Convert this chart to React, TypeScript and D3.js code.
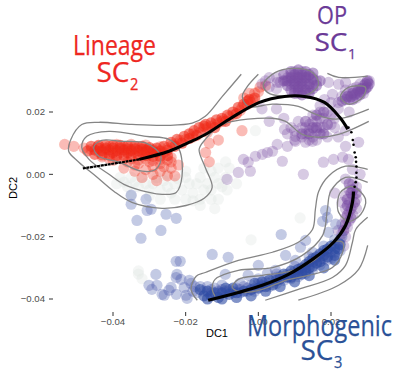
import React from "react";
import * as d3 from "d3";

type P = [number, number];
// all DC values below are in units of 1e-3
const xTicks = [-40, -20, 0, 20];
const yTicks = [20, 0, -20, -40];

const grayCells: P[] = [[-38,-1],[-35,-1],[-32,-1],[-29,-3],[-26,-2],[-23,-3],[-20,-1],[-17,-3],[-15,-5],[-36,-4],[-33,-4],[-30,-5],[-27,-5],[-24,-6],[-21,-5],[-18,-6],[-16,-8],[-14,-3],[-12,-1],[-10,-4],[-13,1],[-8.6,-5],[-11,2],[-20,-8],[-35,-7],[-0.8,14],[11.5,-14],[-2,-21],[-11,-8],[-33,-32],[-32,-33.5],[-33,-31],
[-37,-2.5],[-34,-2.5],[-31,-3],[-28,-1],[-25,-4],[-22,-1.5],[-19,-3],[-16,-1],[-13,-5],[-11,-3],[-9,-1],[-8,2],[-15,2],[-18,-8.5],[-23,-8],[-27,-8],[-13,-8],[-30,-7],[-39,-3],[-20,1],[-25,0],[-9,4],[-6,-3],[-16,-10],[-12,-11]];

const redCore: P[] = [[-46,9],[-44,9.3],[-42,9.3],[-40,9.3],[-38,9.3],[-36,9],[-34,9],[-32,9],[-30,8.6],[-28,8.4],
[-47,7.5],[-45,7.8],[-43,7.6],[-41,7.8],[-39,7.6],[-37,7.8],[-35,7.6],[-33,7.6],[-31,7.5],[-29,7.5],[-27,7.5],[-25,7.8],
[-45,6.4],[-43,6.2],[-41,6.2],[-39,6],[-37,6],[-35,6],[-33,6],[-31,6],[-29,5.8],[-27,5.8],[-25,6],
[-44,8.4],[-42,8.4],[-40,8.4],[-38,8.4],[-36,8.2],[-34,8.2],[-32,8],[-30,7.8],[-28,7],[-36,7],[-40,7],[-32,7],
[-26,9],[-24,10.3],[-22.4,11.2],[-20.4,12.2],[-19,13],[-17.7,14],[-16.3,15],[-15,15.5],[-23,9],[-21,10],[-19,11.5],[-17,12.5],
[-14.5,16],[-13,16.5],[-11.5,17.5],[-10,18],[-8.5,19],[-7,20],[-5.5,21.5],[-4,22.5],[-2.5,24],[-1,24.5],[-9,17],[-12,15],[-6,19.5],[-3,23.5]];

const redCells: P[] = [[-53.3,9.6],[-50.8,9],[-48,8.4],
[-46,8],[-44,7.2],[-42,7],[-38,7],[-34,7],[-30,6.6],[-26,7],[-44,9],[-41,9],[-37,8.8],[-33,8.6],[-29,8],[-43,5.6],[-39,5.2],[-35,5],[-31,5],[-27,4.8],[-24,5.4],[-41,5],[-37,5],[-33,4.6],[-29,4.4],[-25,4.6],[-42,8],[-38,8],[-35,8],[-31,8],[-39,9.6],[-35,9.6],[-31,9.4],[-27,8.8],
[-40,4.5],[-36,4],[-33,3.5],[-30,4],[-27,3.5],[-24,4],[-37,2],[-31,1.5],[-27,1],[-24,2],[-34,1],[-29,0],[-25,-0.5],[-32,-1],[-28,-2],[-23,-0.5],[-22,3],[-34,3],[-29,2.5],[-26,2.4],
[-25,8.5],[-23.5,9.5],[-21.5,11],[-20,11.2],[-18,13],[-16,13.5],[-15,14.5],[-22,10],[-18,12],[-14,15],
[-13,15.5],[-11,16.5],[-9.5,17.5],[-8,18.5],[-7,19],[-5,20.5],[-4.5,21.5],[-3,22.5],[-2,23],[-1.5,24],[-12,16],[-10,17],
[-14,13.5],[-13.5,10],[-11,11],[-14.5,7],[-13.5,4],[-2.5,26],[0,26.5],[0.5,28],[2,28.5],[-4,24.5],[-1,26],[-4.5,14]];

const purpleCore: P[] = [[7,32],[9,33],[11,33.5],[13,33],[15,32.5],[7,30],[9,31],[11,31],[13,31],[15,30.5],[17,30],[8,28.5],[10,29],[12,29],[14,29],[16,28.5],[9,27],[11,27],[13,27],[15,27.5],[10,26],[12,25.5],[14,26],[10,32],[12,32],[14,32],[8,30],[12,30],[10,30],[11,28],
[30.5,29],[30,28],[29.5,29],[28.5,27.5],[28,26.5],[27.5,27],[26.5,25.5],[26,26],[25.5,25],[24.5,25],[24,24],[23,23.5],[29.5,27.5],[28,25.5],[30,30],[26,24],
[15,15],[14,13],[17,13],[12,13],[18,13],[16,15],[13,17],[16,19],[19,16],[18,20],
[25.5,-6],[24.5,-8],[26.5,-9],[25.5,-11],[24.5,-13],[25.5,-14],[24,-16],[23.5,-18],[26,-5],[27,-6],[25,-3],[24.5,-10]];

const purpleCells: P[] = [[5,31],[6,29.5],[5.2,29.5],[3,28],[7.5,30],[3,31],[1,29],[5,27.5],[2,30],
[9,32],[11,32],[13,32],[15,31],[9,30],[11,30],[13,30],[15,29],[10,28],[12,28],[14,28],[8,31],[10,31],[12,31],[14,31],[9,29],[11,29],[13,29],[10,27],[12,27],[14,27],[11,26],[13,26],[16,30],[12,33],[10,33],
[19.3,29.5],[22.1,28.9],[24,29.5],[18.2,24],[20.4,25.7],
[30,29.5],[29,28.5],[28,27.5],[27,28],[29,27],[30.5,30],[29,26],[27,26],[25,26],[23,25],[25,24],[27,24.5],[24,27],[26,27.5],[22,23],[28,29],
[11,17],[14,16],[16,14],[13,13],[17,18],[19,20],[15,19],[18,15],[12,15],[15,12],[20,16],[21,18],[22,21],[19,12],[22,12],[24,14],[20,23],[25,20],[17,22],[9,15],[7,18],[5,21],[1,21],[3,17],[8,13],[10,11],[14,14],[16,17],[17,15],[13,15],[18,18],[16,11],
[20,19],[12,12],[10,14],[15,17],[17,20],[21,15],[14,11],
[7.2,14.4],[10.2,12.2],[13,10.3],[14.9,10.6],[10.2,10.6],[8,9],[5.2,9.6],[3.9,7.4],[1.1,6.4],[-0.8,5.8],[-2.8,3.9],[-2.2,1],[-5.5,0.6],[-8.6,-1.6],[6.6,4.2],[12.4,0],[17.9,3.9],[20.7,4.8],[23.2,5.5],[24.8,4.8],[24,9],[27.6,10.3],[25.9,1.6],[-4.1,4.8],[2.5,7],
[25,-5],[24,-7],[26,-7],[27,-8],[25,-9],[23,-9],[26,-10],[24,-11],[25,-12],[27,-11],[26,-13],[24,-14],[25,-15],[23,-16],[24.5,-17],[23,-19],[22.5,-21],[24,-20],[23.5,-23],[22,-18],[26,-3],[24,-1.5],[21,-6],[27,-4],[28,0]];

const blueCore: P[] = [[-16,-37],[-14,-37.5],[-12,-38],[-10,-38],[-15,-39],[-13,-39],[-11,-39.5],[-8,-38.5],[-6,-38],[-4,-37.5],[-9,-36.5],[-7,-36.5],[-2,-37],[0,-36.5],[2,-36],[4,-35.5],[-1,-35],[1,-34.5],[3,-34],[5,-34],[6,-33.5],[8,-33],[10,-32],[7,-32],[9,-31],[11,-30.5],[12,-30],[13,-29],[14,-28],[15,-27],[16,-26.5],[17,-25.5],[18,-24.5],[19,-24],[20,-23],[21,-24],[22,-24],[21,-26],[19,-26.5],[17,-28],[15,-29.5],[13,-31],[11,-32],[9,-33],[22.5,-22.5],[18,-26],[16,-28.5],[14,-30],[12,-32],
[-14,-40],[-10,-40],[-6,-39.5],[-2,-39],[2,-37.5],[6,-36],[10,-34.5],[14,-32.5],[18,-30],[21,-27.5]];

const blueCells: P[] = [[-16,-36],[-15,-37.5],[-14,-36],[-13,-37],[-12,-36.5],[-11,-37.5],[-10,-37],[-9,-38],[-8,-37],[-7,-38],[-5,-37],[-3,-36.5],[-1,-36.5],[1,-36],[3,-35],[5,-35],[7,-34],[9,-33.5],[11,-32.8],[13,-31.8],[15,-30.5],[17,-29],[19,-27.5],[21,-25],[-6,-36.5],[-4,-36],[-2,-35.5],[0,-35],[2,-34.5],[4,-34],[6,-32.8],[8,-32],[10,-31],[12,-31],[14,-29],[16,-27.5],[18,-27],[20,-25],[22,-22],[-13,-38],[-11,-38],[-9,-37.5],[-7,-37.5],[-5,-38],[-3,-37.5],[-1,-37.5],[1,-35.5],[3,-36],[5,-33],[7,-33],[9,-32],[11,-31.5],[13,-30],[15,-28],[17,-27],[19,-25],[21,-22.5],[22.5,-24.5],[20,-27],
[-10,-35.5],[-5,-35],[0,-33.5],[5,-32],[10,-29.5],[14,-26.5],[18,-23],[21,-21],[23,-20],
[-35,-6.7],[-30.9,-8],[-35,-9.6],[-30.6,-11.6],[-29.5,-11.2],[-25.4,-12.8],[-22.6,-14.1],[-33.4,-14.8],[-26.8,-18],[-32.3,-20.5],[-22.6,-27.9],[-21.5,-27.9],[-28.2,-32.1],[-22.4,-32.1],[-22.6,-33.1],[-21.3,-33.7],[-19,-34],[-30.1,-35.6],[-27.9,-35.6],[-29.3,-36.9],[-24,-36.3],[-20.4,-36.3],[-26.5,-38.5],[-25.9,-38.8],[-24.6,-37.2],[-22.6,-38.5],[-19.9,-38.8],[-19.6,-39.8],
[-12.7,-25.7],[-8.3,-26.6],[6.3,-19.3],[0,-29.2],[-9.1,-32.1],[-2.8,-32.4],[2.5,-31.8],[4.7,-30.8],[7.5,-26],[11.6,-23.4],[13,-21.2],[10.2,-27.6],[14.9,-25],[19.3,-18.6],[21.3,-16],[17.7,-15.1],[18.5,-11.6],[19,-13.8],[-18.5,-35],[-17.5,-36],[-17,-38],[-18,-37.5]];

const contourOpen: P[][] = [
  [[-4.7,32.1],[-9.9,25],[-14.6,18.6],[-18.2,16.4],[-25.4,15.7],[-34.8,16],[-43.9,16.7],[-48.6,16],[-51.6,11.2],[-52.2,7.4],[-49.4,3.9],[-44.7,-0.6],[-39.7,-5.5],[-34.8,-9],[-26.5,-10.9],[-19.9,-10],[-14.9,-7.7],[-12.7,-4.2],[-14.6,2.2],[-16.3,8],[-14.6,11.2],[-9.9,16],[3.9,18],[7.5,17],[12.1,12.8],[16.6,11.9],[22.1,12.8],[30.4,17]],
  [[0,32.1],[-3,28.2],[-4.4,25],[-2.8,21.8],[3.9,22.5],[11,21.8],[15.7,19.3],[21.3,17.7],[30.4,20.9]],
  [[19,32.4],[22.1,31.1],[30.1,31.5]],
  [[-16.8,-40.4],[-18.5,-36.9],[-17.1,-32.7],[-14.6,-31.5],[-5.5,-27.6],[3.9,-25],[11,-21.8],[14.9,-17.7],[15.7,-11.2],[16.6,-5.5],[19.3,-0.6],[24,2.6],[30.1,1.6]],
  [[-11.9,-39.2],[-12.7,-36.9],[-11.9,-33.7],[-5.5,-30.8],[3.9,-29.9],[12.1,-26],[17.7,-19.6],[19,-11.2],[19.9,-5.5],[24,-1],[30.1,-2.6]],
  [[1.9,-40.4],[11,-36.9],[20.4,-33.1],[24,-29.2],[25.9,-21.8],[26.8,-17.7],[30.1,-13.8]],
  [[11,-40.4],[22.1,-35.6],[27.6,-30.5],[30.1,-22.8]],
];
const contourClosed: P[][] = [
  [[-48.6,8.7],[-47.2,12.2],[-41.1,13.8],[-30.9,12.2],[-24.6,11.2],[-21.8,8],[-21,-0.6],[-22.6,-5.8],[-26.5,-6.4],[-30.1,-5.8],[-37,-3.2],[-41.1,0],[-46.6,4.8]],
  [[-45.3,8.7],[-43.1,10.9],[-37.5,10.6],[-30.9,10],[-26.8,5.8],[-28.2,1.6],[-32,1],[-38.4,3.9],[-43.9,5.8]],
  [[4.7,32.7],[1.4,28.9],[2.5,26.3],[7.5,25],[13.8,25.7],[16.6,28.9],[14.9,32.7],[10.2,34]],
  [[22.6,25],[24.8,27.9],[29.5,27.9],[28.7,24.7],[24.8,22.5]],
  [[-7.2,-36.3],[-5.5,-33.7],[1.1,-32.4],[8.6,-31.1],[15.7,-27.3],[20.4,-21.8],[23.2,-21.8],[23.2,-25],[20.4,-29.9],[13.8,-32.4],[7.5,-34],[1.1,-36.9],[-4.4,-37.9]],
  [[21.8,-9],[22.6,-5.8],[25.7,-3.9],[29.5,-8],[28.2,-12.8],[24.8,-15.1],[22.1,-12.2]],
];

const trajLeft: P[] = [[-48.3,1.9],[-41.1,3.2],[-32.8,4.8]];
const trajTop: P[] = [[-32.8,4.8],[-24.6,7.4],[-19,10.3],[-14.6,12.8],[-8,17.7],[0.3,23.1],[7.2,25],[12.7,25],[18.2,23.1],[22.4,18.3],[24.6,14.5]];
const trajDots: P[] = [[24.8,15],[25.6,13.5],[26,11],[26.2,9.5],[26.5,7],[26.8,5.5],[26.9,4],[27,2.5],[27,0.5],[27,-1],[26.8,-2.5],[26.5,-4]];
const trajBottom: P[] = [[26.2,-5.5],[25.9,-9],[24,-16.4],[20.7,-21.8],[14.9,-27.3],[8.3,-32.1],[1.1,-35.6],[-5.5,-37.9],[-13.8,-40.4]];

const x = d3.scaleLinear().domain([-40, 20]).range([113, 331]);
const y = d3.scaleLinear().domain([-40, 20]).range([299, 112]);
const fmt = (v: number) => d3.format(".2f")(v / 1000);
const line = d3.line<P>().x(d => x(d[0])).y(d => y(d[1])).curve(d3.curveCatmullRom.alpha(0.5));
const loop = d3.line<P>().x(d => x(d[0])).y(d => y(d[1])).curve(d3.curveCatmullRomClosed.alpha(0.5));
const sans = "'Liberation Sans', Arial, sans-serif";
const label = "'Open Sans', sans-serif";

function Cells({ data, fill, opacity }: { data: P[]; fill: string; opacity: number }) {
  return <g fill={fill} fillOpacity={opacity} filter="url(#soft)">{data.map((d, i) => <circle key={i} cx={x(d[0])} cy={y(d[1])} r={5.6} />)}</g>;
}

function Title({ text, sub, cx, cy, fill, width, size }: { text: string; sub?: string; cx: number; cy: number; fill: string; width: number; size: number }) {
  return (
    <g fill={fill} stroke={fill} strokeWidth={0.25} fontFamily={label} fontSize={size}>
      <text x={cx} y={cy} textAnchor="middle" textLength={width} lengthAdjust="spacingAndGlyphs">{text}</text>
      {sub && <text x={cx + width / 2 + 0.5} y={cy + 8} fontSize={size * 0.58} textLength={size * 0.31} lengthAdjust="spacingAndGlyphs">{sub}</text>}
    </g>
  );
}

export default function App() {
  return (
    <svg width={412} height={386} style={{ position: "absolute", left: 0, top: 0 }}>
      <defs>
        <filter id="soft" x="-5%" y="-5%" width="110%" height="110%"><feGaussianBlur stdDeviation={0.5} /></filter>
      </defs>
      <rect width={412} height={386} fill="#fff" />
      <Cells data={grayCells} fill="#dfe5e2" opacity={0.35} />
      <Cells data={redCells} fill="#ee2a1a" opacity={0.32} />
      <Cells data={redCore} fill="#ee2a1a" opacity={0.55} />
      <Cells data={purpleCells} fill="#7a4ba3" opacity={0.3} />
      <Cells data={purpleCore} fill="#7a4ba3" opacity={0.5} />
      <Cells data={blueCells} fill="#3a4da6" opacity={0.3} />
      <Cells data={blueCore} fill="#2f4ba3" opacity={0.6} />
      <g fill="none" stroke="#858585" strokeWidth={1.3}>
        {contourOpen.map((c, i) => <path key={i} d={line(c) ?? ""} />)}
        {contourClosed.map((c, i) => <path key={i} d={loop(c) ?? ""} />)}
      </g>
      <g fill="none" stroke="#000">
        <path d={line(trajLeft) ?? ""} strokeWidth={2.2} strokeDasharray="3 0.6" />
        <path d={line(trajTop) ?? ""} strokeWidth={3} />
        <path d={line(trajBottom) ?? ""} strokeWidth={3.2} />
      </g>
      <g fill="#000">{trajDots.map((d, i) => <circle key={i} cx={x(d[0])} cy={y(d[1])} r={1.3} />)}</g>
      <g fontFamily={sans} fontSize={9.6} fill="#4d4d4d">
        {yTicks.map(v => (
          <g key={v}>
            <line x1={49} x2={53} y1={y(v)} y2={y(v)} stroke="#333" />
            <text x={45} y={y(v) + 3.4} textAnchor="end">{fmt(v)}</text>
          </g>
        ))}
        {xTicks.map(v => (
          <g key={v}>
            <line x1={x(v)} x2={x(v)} y1={312} y2={316} stroke="#333" />
            <text x={x(v)} y={325} textAnchor="middle">{fmt(v)}</text>
          </g>
        ))}
      </g>
      <g fontFamily={sans} fontSize={11} fill="#000">
        <text x={217} y={337} textAnchor="middle">DC1</text>
        <text transform="translate(17,188) rotate(-90)" textAnchor="middle">DC2</text>
      </g>
      <Title text="Lineage" cx={114.5} cy={55} fill="#ee2722" width={83} size={27} />
      <Title text="SC" sub="2" cx={113} cy={82} fill="#ee2722" width={33} size={27} />
      <Title text="OP" cx={332} cy={24} fill="#6b3a97" width={30} size={26} />
      <Title text="SC" sub="1" cx={331} cy={51} fill="#6b3a97" width={33} size={26} />
      <Title text="Morphogenic" cx={319.5} cy={336} fill="#2b5197" width={145} size={29} />
      <Title text="SC" sub="3" cx={317} cy={360} fill="#2b5197" width={33} size={27} />
    </svg>
  );
}
